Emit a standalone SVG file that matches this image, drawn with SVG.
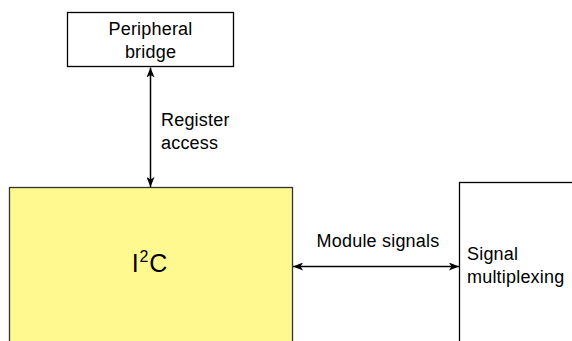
<svg xmlns="http://www.w3.org/2000/svg" width="572" height="341" viewBox="0 0 572 341">
<style>
.box{fill:#fff;stroke:#000;stroke-width:1.3}
.t{font-family:"Liberation Sans",Arial,sans-serif;font-size:18px;letter-spacing:0.2px;fill:#000}
.c{stroke:#000;stroke-width:1.5;fill:none}
</style>
<defs>
<marker id="ah" viewBox="0 0 10 8" refX="10" refY="4" markerWidth="10" markerHeight="8" markerUnits="userSpaceOnUse" orient="auto-start-reverse">
<path d="M0,0 L10,4 L0,8 L2.5,4 Z" fill="#000"/>
</marker>
</defs>
<g id="peripheral-bridge">
<rect class="box" x="67.5" y="12.5" width="166" height="54"/>
<text class="t" x="150.5" y="35" text-anchor="middle">Peripheral</text>
<text class="t" x="150.5" y="58" text-anchor="middle">bridge</text>
</g>
<g id="i2c">
<rect x="9.5" y="187.5" width="283" height="170" fill="#fff98f" stroke="#333" stroke-width="1.3"/>
<text x="150" y="272" text-anchor="middle" font-family="Liberation Sans,Arial,sans-serif" font-size="25" letter-spacing="0.8">I<tspan font-size="16" dy="-10">2</tspan><tspan dy="10">C</tspan></text>
</g>
<g id="signal-multiplexing">
<rect class="box" x="459.5" y="182.5" width="130" height="180"/>
<text class="t" x="467" y="260">Signal</text>
<text class="t" x="467" y="283">multiplexing</text>
</g>
<g id="connectors">
<line class="c" x1="150.5" y1="67.5" x2="150.5" y2="187" marker-start="url(#ah)" marker-end="url(#ah)"/>
<text class="t" x="161" y="126">Register</text>
<text class="t" x="161" y="149">access</text>
<line class="c" x1="293" y1="266.5" x2="459" y2="266.5" marker-start="url(#ah)" marker-end="url(#ah)"/>
<text class="t" x="378" y="247" text-anchor="middle">Module signals</text>
</g>
</svg>
